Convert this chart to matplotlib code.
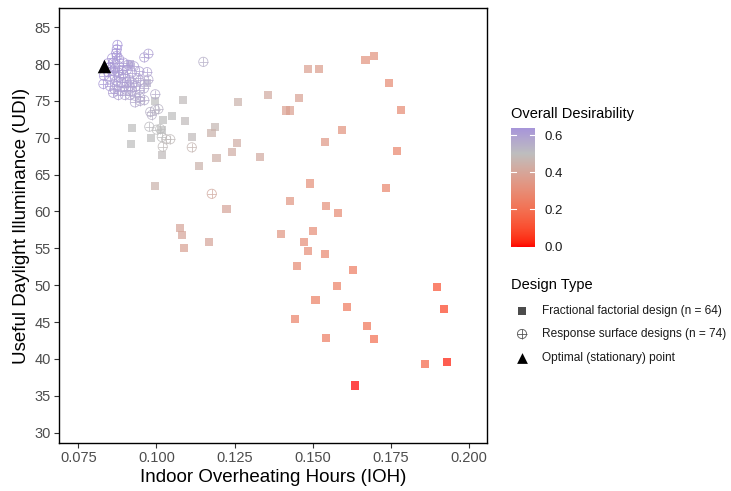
import numpy as np
import matplotlib
matplotlib.use("Agg")
import matplotlib.pyplot as plt
from matplotlib.colors import ListedColormap, Normalize

plt.rcParams['font.family'] = ['Liberation Sans', 'DejaVu Sans']

# ---------------- data ----------------
# Fractional factorial design (n = 64)
ff_ioh = [0.0916, 0.0971, 0.0995, 0.1086, 0.1020, 0.1049, 0.1092, 0.0921, 0.1018, 0.0982,
          0.1114, 0.0918, 0.1018, 0.0996, 0.1262, 0.1358, 0.1186, 0.1176, 0.1259, 0.1243,
          0.1192, 0.1332, 0.1137, 0.1484, 0.1520, 0.1669, 0.1697, 0.1457, 0.1415, 0.1428,
          0.1745, 0.1783, 0.1594, 0.1540, 0.1771, 0.1492, 0.1735, 0.1428, 0.1542, 0.1581,
          0.1224, 0.1076, 0.1082, 0.1087, 0.1169, 0.1400, 0.1501, 0.1473, 0.1485, 0.1540,
          0.1450, 0.1628, 0.1578, 0.1897, 0.1509, 0.1609, 0.1921, 0.1444, 0.1674, 0.1544,
          0.1696, 0.1860, 0.1930, 0.1636]
ff_udi = [80.0, 77.4, 75.0, 75.1, 72.4, 73.0, 72.3, 71.3, 71.1, 70.0,
          70.1, 69.2, 67.7, 63.4, 74.8, 75.8, 71.5, 70.6, 69.3, 68.1,
          67.3, 67.4, 66.2, 79.3, 79.3, 80.5, 81.1, 75.4, 73.7, 73.7,
          77.4, 73.8, 71.0, 69.4, 68.2, 63.8, 63.2, 61.4, 60.7, 59.8,
          60.3, 57.7, 56.8, 55.0, 55.9, 57.0, 57.3, 55.9, 54.6, 54.2,
          52.6, 52.1, 49.9, 49.8, 48.0, 47.1, 46.8, 45.4, 44.5, 42.9,
          42.7, 39.3, 39.6, 36.4]
ff_des = [0.58, 0.55, 0.50, 0.49, 0.50, 0.50, 0.49, 0.50, 0.50, 0.50,
          0.49, 0.50, 0.49, 0.45, 0.45, 0.42, 0.47, 0.45, 0.43, 0.43,
          0.44, 0.42, 0.45, 0.38, 0.37, 0.33, 0.33, 0.39, 0.38, 0.38,
          0.30, 0.30, 0.33, 0.35, 0.28, 0.32, 0.28, 0.34, 0.32, 0.30,
          0.40, 0.40, 0.40, 0.39, 0.40, 0.34, 0.31, 0.31, 0.31, 0.29,
          0.30, 0.25, 0.26, 0.12, 0.26, 0.24, 0.08, 0.27, 0.22, 0.25,
          0.20, 0.17, 0.02, 0.00]

# Response surface designs (n = 74)
rs_ioh = [0.0875, 0.0873, 0.0871, 0.0873, 0.0974, 0.0961, 0.1150, 0.0862, 0.0894, 0.0851,
          0.0867, 0.0889, 0.0905, 0.0921, 0.0945, 0.0864, 0.0881, 0.0899, 0.0851, 0.0871,
          0.0889, 0.0905, 0.0924, 0.0948, 0.0974, 0.0830, 0.0865, 0.0883, 0.0903, 0.0921,
          0.0945, 0.0878, 0.0899, 0.0996, 0.0931, 0.0947, 0.0961, 0.0980, 0.0996, 0.0985,
          0.1006, 0.0977, 0.1001, 0.1012, 0.1017, 0.1031, 0.1044, 0.1020, 0.1113, 0.1177,
          0.0858, 0.0880, 0.0845, 0.0877, 0.0832, 0.0851, 0.0914, 0.0940, 0.0874, 0.0896,
          0.0915, 0.0935, 0.0861, 0.0915, 0.0931, 0.0960, 0.0970, 0.0845, 0.0880, 0.0909,
          0.0928, 0.0861, 0.0893, 0.0947]
rs_udi = [82.6, 82.0, 81.5, 81.1, 81.4, 80.9, 80.3, 80.2, 80.2, 79.6,
          79.4, 79.2, 79.2, 78.8, 79.0, 78.5, 78.3, 78.3, 77.9, 77.7,
          77.5, 77.5, 77.4, 77.8, 77.9, 77.3, 76.6, 76.4, 76.5, 76.4,
          76.5, 75.8, 75.8, 75.9, 74.8, 75.0, 75.1, 73.5, 73.8, 73.1,
          73.9, 71.5, 71.1, 71.2, 70.1, 69.8, 69.8, 68.8, 68.7, 62.4,
          80.8, 80.7, 78.9, 78.9, 78.4, 77.0, 77.8, 78.1, 77.0, 76.9,
          77.0, 77.0, 76.1, 75.8, 75.7, 76.7, 78.9, 80.1, 79.7, 79.9,
          79.7, 79.1, 78.6, 75.5]
rs_des = [0.63, 0.63, 0.62, 0.62, 0.60, 0.60, 0.55, 0.62, 0.61, 0.62,
          0.62, 0.61, 0.61, 0.60, 0.60, 0.61, 0.61, 0.60, 0.61, 0.61,
          0.60, 0.60, 0.59, 0.58, 0.57, 0.62, 0.60, 0.60, 0.59, 0.59,
          0.58, 0.59, 0.58, 0.56, 0.57, 0.56, 0.56, 0.54, 0.53, 0.54,
          0.53, 0.51, 0.50, 0.50, 0.50, 0.49, 0.49, 0.49, 0.47, 0.42,
          0.62, 0.62, 0.62, 0.61, 0.62, 0.61, 0.60, 0.59, 0.60, 0.60,
          0.59, 0.59, 0.60, 0.58, 0.58, 0.57, 0.59, 0.62, 0.61, 0.61,
          0.60, 0.61, 0.60, 0.57]

opt_ioh = [0.0831]
opt_udi = [79.7]

x_ticks = [0.075, 0.100, 0.125, 0.150, 0.175, 0.200]
y_ticks = [30, 35, 40, 45, 50, 55, 60, 65, 70, 75, 80, 85]
cbar_ticks = [0.0, 0.2, 0.4, 0.6]

# ---------------- colour scale (Lab interpolation: red -> grey -> lavender) ----------------
def hex2rgb(h):
    return np.array([int(h[i:i + 2], 16) for i in (1, 3, 5)]) / 255.0

M = np.array([[0.4124, 0.3576, 0.1805], [0.2126, 0.7152, 0.0722], [0.0193, 0.1192, 0.9505]])
WHITE = np.array([0.95047, 1.0, 1.08883])

def rgb2lab(c):
    c = np.where(c > 0.04045, ((c + 0.055) / 1.055) ** 2.4, c / 12.92)
    xyz = M @ c / WHITE
    f = np.where(xyz > 0.008856, np.cbrt(xyz), 7.787 * xyz + 16 / 116)
    return np.array([116 * f[1] - 16, 500 * (f[0] - f[1]), 200 * (f[1] - f[2])])

def lab2rgb(lab):
    L, a, b = lab
    fy = (L + 16) / 116
    fx = fy + a / 500
    fz = fy - b / 200
    f = np.array([fx, fy, fz])
    xyz = np.where(f ** 3 > 0.008856, f ** 3, (f - 16 / 116) / 7.787) * WHITE
    c = np.linalg.solve(M, xyz)
    c = np.clip(c, 0, 1)
    c = np.where(c > 0.0031308, 1.055 * c ** (1 / 2.4) - 0.055, 12.92 * c)
    return np.clip(c, 0, 1)

low, mid, top = rgb2lab(hex2rgb('#FF0000')), rgb2lab(hex2rgb('#BEBEBE')), rgb2lab(hex2rgb('#A796DA'))
vmin, vmax, vmid = 0.0, 0.636, 0.5
vals = np.linspace(vmin, vmax, 256)
cols = []
for v in vals:
    if v < vmid:
        t = (vmid - v) / (vmid - vmin)
        lab = mid + (low - mid) * t
    else:
        t = (v - vmid) / (vmax - vmid)
        lab = mid + (top - mid) * t
    cols.append(lab2rgb(lab))
cmap = ListedColormap(cols)
norm = Normalize(vmin, vmax)

# ---------------- figure ----------------
W, H = 731, 491
fig = plt.figure(figsize=(W / 100, H / 100), dpi=100)
ax = fig.add_axes([59 / W, 1 - 443 / H, (487 - 59) / W, (443 - 8) / H])

ax.scatter(ff_ioh, ff_udi, c=ff_des, cmap=cmap, norm=norm, marker='s', s=34,
           alpha=0.72, linewidths=0, zorder=2)
rs_cols = cmap(norm(np.array(rs_des)))
ax.scatter(rs_ioh, rs_udi, facecolors='none', edgecolors=rs_cols, marker='o', s=44,
           linewidths=0.6, alpha=0.85, zorder=3)
ax.scatter(rs_ioh, rs_udi, c=rs_cols, marker='+', s=44, linewidths=0.6, alpha=0.85, zorder=3)
ax.scatter(opt_ioh, opt_udi, c='black', marker='^', s=95, linewidths=0, zorder=4)

ax.set_xlim(0.0688, 0.2058)
ax.set_ylim(28.6, 87.6)
ax.set_xticks(x_ticks)
ax.set_xticklabels([f"{v:.3f}" for v in x_ticks])
ax.set_yticks(y_ticks)
ax.tick_params(axis='both', direction='out', length=3.5, width=0.8, color='#333333',
               labelcolor='#4D4D4D', labelsize=10.5, pad=2.5)
for sp in ax.spines.values():
    sp.set_linewidth(1.0)
    sp.set_color('black')
ax.set_xlabel('Indoor Overheating Hours (IOH)', fontsize=13.5, color='black', labelpad=3)
ax.set_ylabel('Useful Daylight Illuminance (UDI)', fontsize=13.5, color='black', labelpad=3)

# ---------------- colour bar ----------------
cax = fig.add_axes([511 / W, 1 - 246.7 / H, 23.5 / W, 118.4 / H])
grad = np.linspace(vmin, vmax, 300).reshape(-1, 1)
cax.imshow(grad, aspect='auto', cmap=cmap, norm=norm, origin='lower',
           extent=[0, 1, vmin, vmax])
cax.set_xlim(0, 1)
cax.set_ylim(vmin, vmax)
cax.set_xticks([])
cax.set_yticks(cbar_ticks)
cax.set_yticklabels([f"{v:.1f}" for v in cbar_ticks])
cax.yaxis.tick_right()
cax.tick_params(axis='y', length=0, labelsize=9.5, labelcolor='#1A1A1A', pad=7)
for v in cbar_ticks:
    cax.plot([0, 0.2], [v, v], color='white', lw=0.8)
    cax.plot([0.8, 1], [v, v], color='white', lw=0.8)
for sp in cax.spines.values():
    sp.set_visible(False)
fig.text(511 / W, 1 - 114 / H, 'Overall Desirability', fontsize=10.5, va='center', ha='left')

# ---------------- shape legend ----------------
fig.text(511 / W, 1 - 285 / H, 'Design Type', fontsize=10.5, va='center', ha='left')
lax = fig.add_axes([0, 0, 1, 1], facecolor='none')
lax.set_xlim(0, W)
lax.set_ylim(H, 0)
lax.axis('off')
legend_items = ['Fractional factorial design (n = 64)',
                'Response surface designs (n = 74)',
                'Optimal (stationary) point']
legend_y = [310.7, 334, 357.5]
lax.scatter([522], [legend_y[0]], marker='s', s=34, c='black', alpha=0.7, linewidths=0)
lax.scatter([522], [legend_y[1]], marker='o', s=44, facecolors='none',
            edgecolors='#555555', linewidths=0.6)
lax.scatter([522], [legend_y[1]], marker='+', s=44, c='#555555', linewidths=0.6)
lax.scatter([522], [legend_y[2]], marker='^', s=60, c='black', linewidths=0)
for lab, yy in zip(legend_items, legend_y):
    lax.text(542, yy, lab, fontsize=8.6, va='center', ha='left', color='#1A1A1A')

fig.savefig('out.png', dpi=100)
